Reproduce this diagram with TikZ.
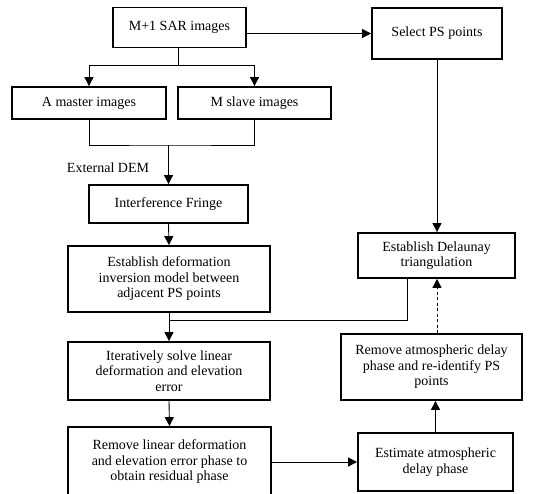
\documentclass[tikz,border=0pt]{standalone}
\usepackage{fontspec}
\setmainfont{Liberation Serif}
\usetikzlibrary{arrows.meta}
\begin{document}
\begin{tikzpicture}[x=1pt,y=-1pt,
  box/.style={draw,line width=1.8pt,align=center,inner sep=0pt,font=\fontsize{14}{15.5}\selectfont},
  conn/.style={line width=0.9pt},
  arr/.style={conn,-{Triangle[length=9pt,width=9pt]}}]
\useasboundingbox (0,0) rectangle (544,494);
\node[box,minimum width=133pt,minimum height=40pt] (sar) at (179.5,27.5) {M+1 SAR images};
\node[box,minimum width=130pt,minimum height=51pt] (sel) at (437,33.5) {Select PS points};
\node[box,minimum width=154pt,minimum height=32pt] (mas) at (89,103) {A master images};
\node[box,minimum width=153pt,minimum height=32pt] (sla) at (254.5,103) {M slave images};
\node[font=\fontsize{14}{15.5}\selectfont,inner sep=0pt] (dem) at (108,168) {External DEM};
\node[box,minimum width=159pt,minimum height=38pt] (ifr) at (168.5,204) {Interference Fringe};
\node[box,minimum width=202pt,minimum height=66pt] (edm) at (169,279) {Establish deformation\\inversion model between\\adjacent PS points};
\node[box,minimum width=157pt,minimum height=45pt] (del) at (436.5,255.5) {Establish Delaunay\\triangulation};
\node[box,minimum width=202pt,minimum height=58pt] (ite) at (169,371) {Iteratively solve linear\\deformation and elevation\\error};
\node[box,minimum width=181pt,minimum height=66pt] (rma) at (431.5,367) {Remove atmospheric delay\\phase and re-identify PS\\points};
\node[box,minimum width=203pt,minimum height=70pt] (rml) at (169.5,462) {Remove linear deformation\\and elevation error phase to\\obtain residual phase};
\node[box,minimum width=155pt,minimum height=58pt] (est) at (435.5,462) {Estimate atmospheric\\delay phase};
\coordinate (j1) at (178,65);
\coordinate (j2) at (168.5,145);
\coordinate (j3) at (407,320);
\draw[arr] (sar.east |- sel.west) -- (sel.west);
\draw[conn] (sar.south -| j1) -- (j1);
\draw[arr] (j1) -| (mas.north);
\draw[arr] (j1) -| (sla.north);
\draw[conn] (mas.south) |- (j2) -| (sla.south);
\draw[arr] (j2) -- (ifr.north);
\draw[arr] (ifr.south) -- (edm.north);
\draw[arr] (sel.south) -- (sel.south |- del.north);
\draw[arr] (edm.south) -- (ite.north);
\draw[conn] (j3 |- del.south) -- (j3) -- (j3 -| edm.south);
\draw[arr] (ite.south) -- (rml.north);
\draw[arr] (rml.east |- est.west) -- (est.west);
\draw[arr] (est.north) -- (est.north |- rma.south);
\draw[arr,dash pattern=on 3pt off 2.5pt] (sel.south |- rma.north) -- (sel.south |- del.south);
\end{tikzpicture}
\end{document}
